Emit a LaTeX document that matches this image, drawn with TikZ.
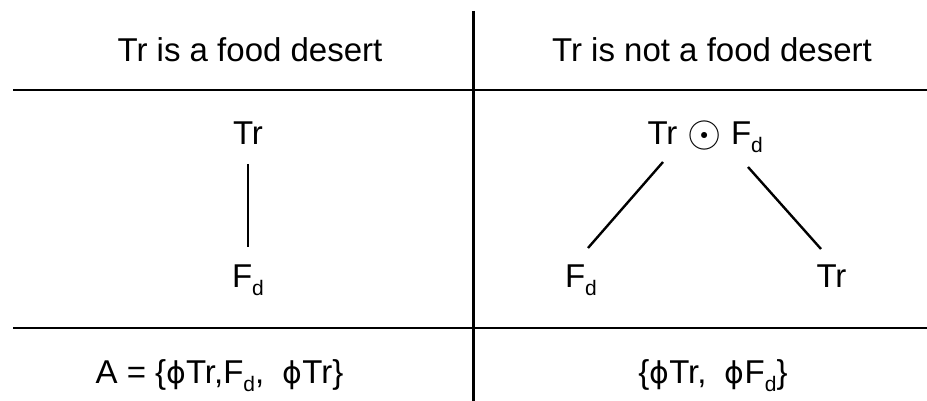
\documentclass[tikz,border=0pt]{standalone}
\usepackage{graphicx}
\usepackage{fontspec}
\setmainfont{Liberation Sans}
\newfontfamily\dejavu{DejaVu Sans}
\usetikzlibrary{calc}
\newcommand\subd{\raisebox{-8pt}{\fontsize{21}{21}\selectfont d}}
\newcommand\phisym{{\dejavu\fontsize{30}{36}\selectfont ϕ}}
\tikzset{
  lbl/.style={inner sep=0pt, anchor=base, font=\fontsize{33}{38}\selectfont},
  rule/.style={line width=2.8pt},
  conn/.style={line width=2.4pt}
}
\begin{document}
\begin{tikzpicture}[x=1pt,y=-1pt]
\useasboundingbox (0,0) rectangle (927,401);
% table rules
\coordinate (h1a) at (13,90);
\coordinate (h1b) at (927,90);
\coordinate (h2a) at (13,328);
\coordinate (h2b) at (927,328);
\coordinate (va) at (473.5,11);
\coordinate (vb) at (473.5,401);
\draw[rule] (h1a) -- (h1b);
\draw[rule] (h2a) -- (h2b);
\draw[line width=2.6pt] (va) -- (vb);
% headers
\node[lbl] (hl) at (250,62) {Tr is a food desert};
\node[lbl] (hr) at (712,62) {Tr is not a food desert};
% left tree
\node[lbl] (trL) at (248,145) {Tr};
\node[lbl] (fdL) at (248,287) {F\subd};
\draw[conn] ($(trL.base)+(0,19)$) -- ($(fdL.base)+(0,-40)$);
% right tree
\node[lbl] (trR) at (662.5,145) {Tr};
\node[lbl,font=\normalsize] (od) at (705,147) {\scalebox{4.4}{$\odot$}};
\node[lbl] (fdR) at (747,145) {F\subd};
\node[lbl] (fdB) at (581,287) {F\subd};
\node[lbl] (trB) at (831.5,287) {Tr};
\draw[conn] ($(trR.base)+(0.5,17)$) -- ($(fdB.base)+(7,-39)$);
\draw[conn] ($(fdR.base)+(1,22)$) -- ($(trB.base)+(-10.5,-38)$);
% bottom row
\node[lbl] (aL) at (219.5,383) {A = \{\phisym Tr,F\subd,\ \ \phisym Tr\}};
\node[lbl] (aR) at (713,383) {\{\phisym Tr,\ \ \phisym F\subd\}};
\end{tikzpicture}
\end{document}
